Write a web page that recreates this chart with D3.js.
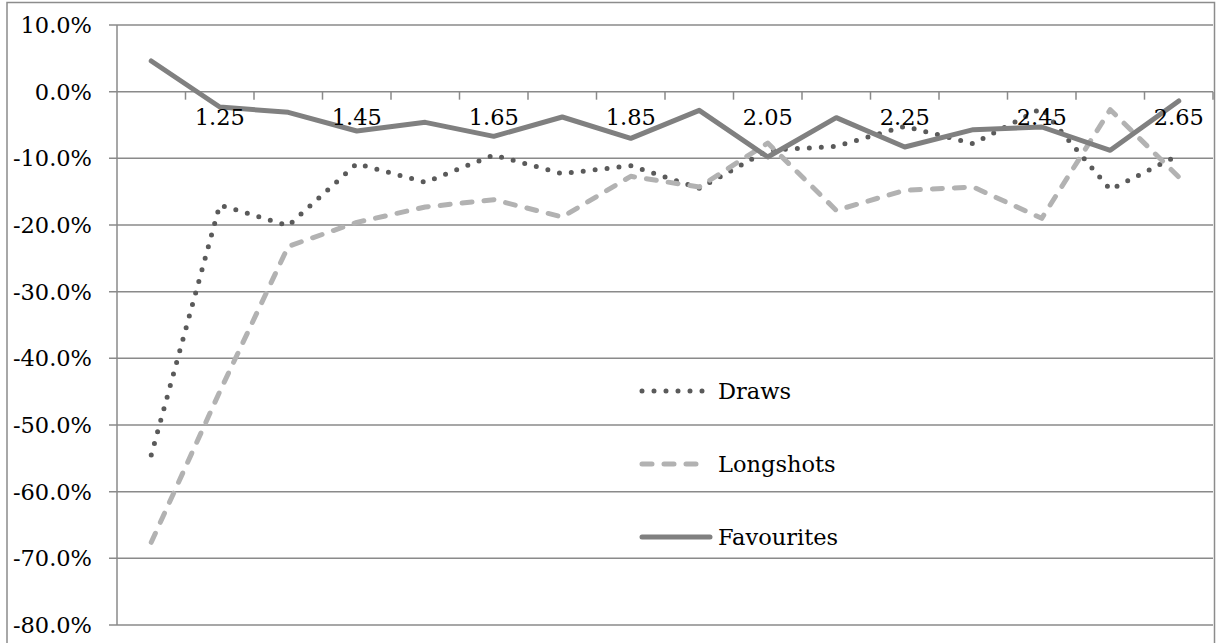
<!DOCTYPE html>
<html>
<head>
<meta charset="utf-8">
<script src="https://cdn.jsdelivr.net/npm/d3@7"></script>
<style>
  html, body { margin: 0; padding: 0; background: #fff; }
  svg { display: block; }
  text { font-family: "DejaVu Serif", "Liberation Serif", serif; fill: #000; }
</style>
</head>
<body>
<svg id="chart" width="1216" height="643"></svg>
<script>
// Odds bands (category axis) and returns per band, in percent
const categories = ["1.15","1.25","1.35","1.45","1.55","1.65","1.75","1.85","1.95","2.05","2.15","2.25","2.35","2.45","2.55","2.65"];
const draws      = [-54.5, -17.0, -20.1, -10.8, -13.6, -9.5, -12.3, -11.1, -14.5, -8.8, -8.2, -5.2, -7.8, -2.5, -14.7, -9.5];
const longshots  = [-67.6, -45.0, -23.2, -19.6, -17.3, -16.2, -18.8, -12.7, -14.3, -7.7, -17.8, -14.8, -14.3, -19.0, -2.7, -12.8];
const favourites = [4.6, -2.3, -3.1, -5.9, -4.6, -6.7, -3.8, -7.0, -2.8, -9.8, -3.9, -8.3, -5.7, -5.3, -8.8, -1.4];
const yTicks     = [10, 0, -10, -20, -30, -40, -50, -60, -70, -80];
const seriesNames = ["Draws", "Longshots", "Favourites"];

const svg = d3.select("#chart");
const W = 1216, H = 643;
const plot = { left: 117, right: 1213, top: 25, bottom: 625 };

// outer frame
svg.append("rect")
  .attr("x", 7).attr("y", 2.5).attr("width", W - 8.5).attr("height", H + 10)
  .attr("fill", "none").attr("stroke", "#8c8c8c").attr("stroke-width", 1.5);

const x = d3.scaleBand().domain(categories).range([plot.left, plot.right]);
const y = d3.scaleLinear().domain([-80, 10]).range([plot.bottom, plot.top]);

// horizontal gridlines
svg.append("g").selectAll("line").data(yTicks).join("line")
  .attr("x1", plot.left - 8).attr("x2", plot.right)
  .attr("y1", d => y(d)).attr("y2", d => y(d))
  .attr("stroke", "#8a8a8a").attr("stroke-width", 1.5);

// value axis line
svg.append("line")
  .attr("x1", plot.left).attr("x2", plot.left)
  .attr("y1", plot.top).attr("y2", plot.bottom)
  .attr("stroke", "#8a8a8a").attr("stroke-width", 1.5);

// value axis labels (plain hyphen for negatives)
const pct = d => d.toFixed(1) + "%";
svg.append("g").selectAll("text").data(yTicks).join("text")
  .attr("x", 92).attr("y", d => y(d))
  .attr("text-anchor", "end").attr("dominant-baseline", "central")
  .style("font-size", "22.5px")
  .text(pct);

// category axis along the zero line
const yZero = y(0);
const tickX = categories.map(c => x(c)).concat([plot.right]);
svg.append("g").selectAll("line").data(tickX.slice(1)).join("line")
  .attr("x1", d => d).attr("x2", d => d)
  .attr("y1", yZero).attr("y2", yZero + 8)
  .attr("stroke", "#8a8a8a").attr("stroke-width", 1.5);

const lineGen = d3.line()
  .x((d, i) => x(categories[i]) + x.bandwidth() / 2)
  .y(d => y(d));

const styles = {
  Draws:      { data: draws,      color: "#5a5a5a", dash: "0 12",  width: 5 },
  Longshots:  { data: longshots,  color: "#b2b2b2", dash: "10 12", width: 5 },
  Favourites: { data: favourites, color: "#808080", dash: null,    width: 5 }
};

seriesNames.forEach(name => {
  const s = styles[name];
  svg.append("path")
    .datum(s.data)
    .attr("d", lineGen)
    .attr("fill", "none")
    .attr("stroke", s.color)
    .attr("stroke-width", s.width)
    .attr("stroke-linecap", "round")
    .attr("stroke-linejoin", "round")
    .attr("stroke-dasharray", s.dash);
});

// category labels, every second band
svg.append("g").selectAll("text")
  .data(categories.filter((c, i) => i % 2 === 1))
  .join("text")
  .attr("x", d => x(d) + x.bandwidth() / 2)
  .attr("y", yZero + 33)
  .attr("text-anchor", "middle")
  .style("font-size", "22.5px")
  .text(d => d);

// legend
const legend = svg.append("g");
const legendY = [391, 464, 537];
seriesNames.forEach((name, i) => {
  const s = styles[name];
  legend.append("line")
    .attr("x1", 642).attr("x2", name === "Favourites" ? 710 : 703)
    .attr("y1", legendY[i]).attr("y2", legendY[i])
    .attr("stroke", s.color)
    .attr("stroke-width", s.width)
    .attr("stroke-linecap", "round")
    .attr("stroke-dasharray", s.dash);
  legend.append("text")
    .attr("x", 718).attr("y", legendY[i])
    .attr("dominant-baseline", "central")
    .style("font-size", "22.5px")
    .text(name);
});
</script>
</body>
</html>
